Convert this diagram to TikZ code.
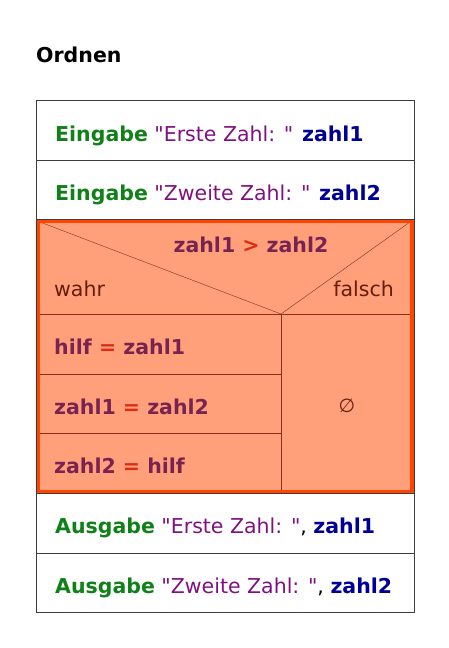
\documentclass[tikz,border=0pt]{standalone}
\usepackage{fontspec}
\setmainfont{DejaVu Sans}
\usetikzlibrary{positioning}
\definecolor{kwgreen}{RGB}{16,128,24}
\definecolor{strpurple}{RGB}{128,16,128}
\definecolor{varblue}{RGB}{0,0,150}
\definecolor{ifill}{RGB}{255,160,122}
\definecolor{iborder}{RGB}{255,69,0}
\definecolor{iline}{RGB}{140,45,25}
\definecolor{itext}{RGB}{120,35,80}
\definecolor{iop}{RGB}{220,45,20}
\definecolor{ilabel}{RGB}{100,30,10}
\definecolor{frame}{RGB}{60,60,60}
\tikzset{
  txt/.style={inner sep=0pt,anchor=base west,font=\fontsize{20.5}{24}\selectfont},
}
\newcommand{\kwd}[1]{\textcolor{kwgreen}{\textbf{#1}}}
\newcommand{\str}[1]{\textcolor{strpurple}{\textquotedbl#1\textquotedbl}}
\newcommand{\var}[1]{\textcolor{varblue}{\textbf{#1}}}
\newcommand{\iexpr}[3]{\textcolor{itext}{\textbf{#1 }}\textcolor{iop}{\textbf{#2}}\textcolor{itext}{\textbf{ #3}}}
\begin{document}
\begin{tikzpicture}[x=1pt,y=-1pt]
  \useasboundingbox (0,0) rectangle (449,648);
  % title
  \node[txt] (title) at (36,62) {\textbf{Ordnen}};
  % red block
  \fill[ifill] (36,219) rectangle (414,493);
  \coordinate (tl) at (40,222);
  \coordinate (tr) at (410,222);
  \coordinate (split) at (281,314);
  \draw[iline] (tl) -- (split) -- (tr);
  \draw[iline] (40,314) -- (410,314);
  \draw[iline] (split) -- (281,491);
  \draw[iline] (40,374) -- (281,374);
  \draw[iline] (40,433) -- (281,433);
  \draw[iborder,line width=4pt] (38,220.5) rectangle (412,491.5);
  % frame
  \draw[frame] (36,100) rectangle (414,612);
  \draw[frame] (36,160) -- (414,160);
  \draw[frame] (36,219) -- (414,219);
  \draw[frame] (36,493) -- (414,493);
  \draw[frame] (36,553) -- (414,553);
  % texts
  \node[txt] (in1) at (55,141) {\kwd{Eingabe} \str{Erste Zahl: } \var{zahl1}};
  \node[txt] (in2) at (55,200) {\kwd{Eingabe} \str{Zweite Zahl: } \var{zahl2}};
  \node[txt,anchor=base] (cond) at (251,252) {\iexpr{zahl1}{>}{zahl2}};
  \node[txt,text=ilabel] (yes) at (54,296) {wahr};
  \node[txt,text=ilabel,anchor=base east] (no) at (394,296) {falsch};
  \node[txt] (s1) at (54,354) {\iexpr{hilf}{=}{zahl1}};
  \node[txt] (s2) at (54,414) {\iexpr{zahl1}{=}{zahl2}};
  \node[txt] (s3) at (54,473) {\iexpr{zahl2}{=}{hilf}};
  \node[txt,anchor=center,text=ilabel,font=\fontsize{19}{22}\selectfont] (empty) at (347,406) {∅};
  \node[txt] (out1) at (55,533) {\kwd{Ausgabe} \str{Erste Zahl: }, \var{zahl1}};
  \node[txt] (out2) at (55,593) {\kwd{Ausgabe} \str{Zweite Zahl: }, \var{zahl2}};
\end{tikzpicture}
\end{document}
